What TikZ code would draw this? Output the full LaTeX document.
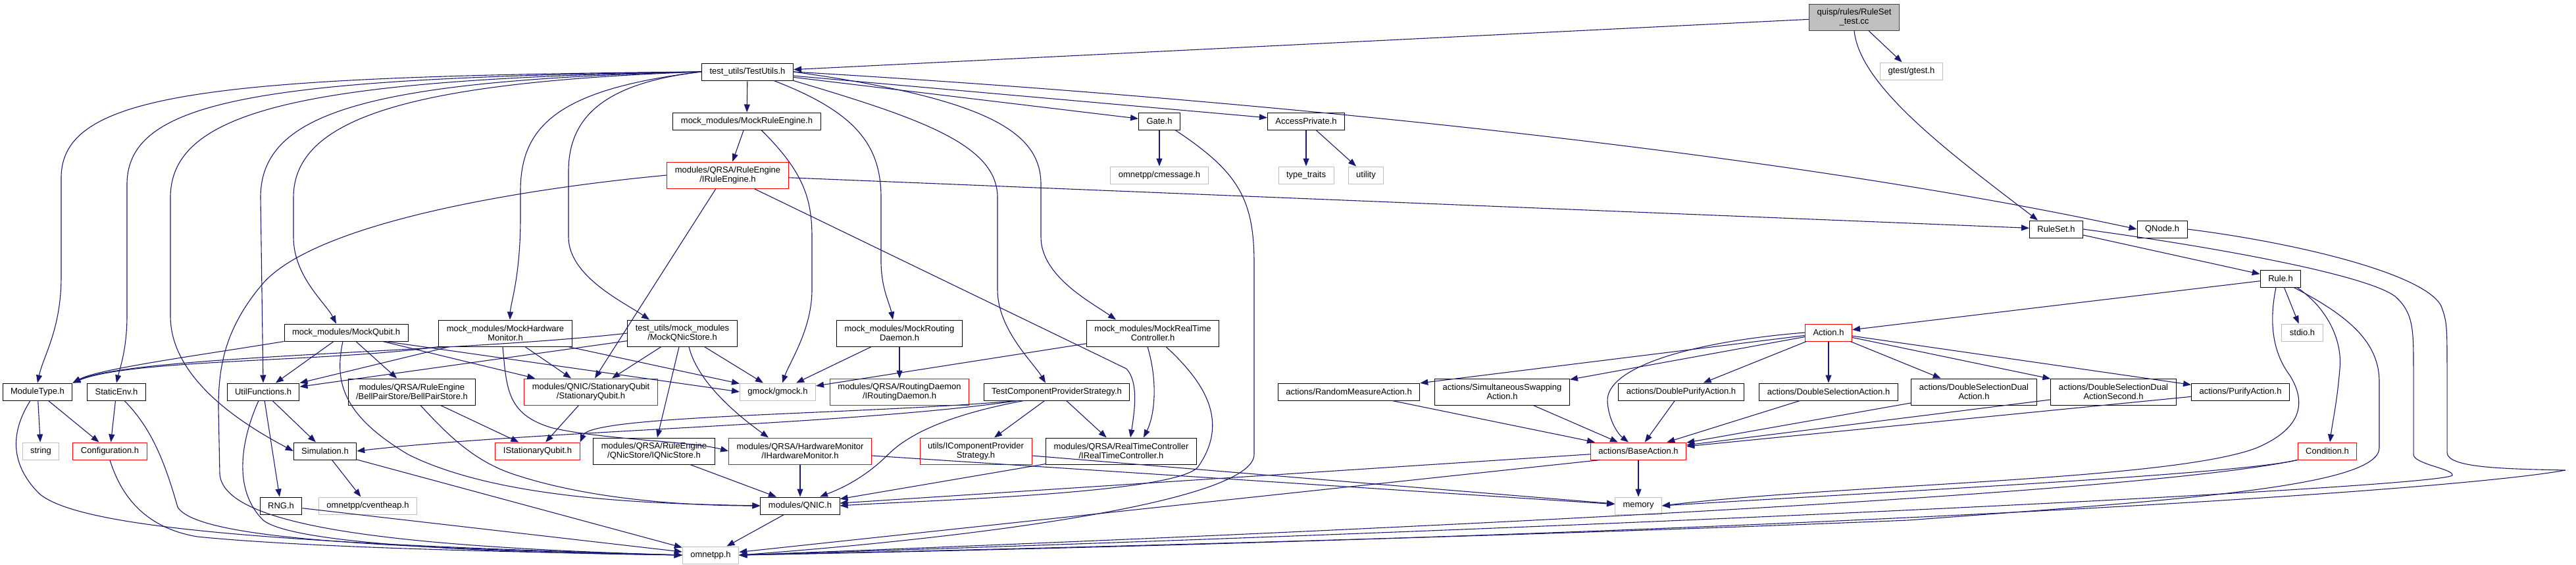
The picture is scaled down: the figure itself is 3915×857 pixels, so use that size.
\documentclass[tikz,border=0pt]{standalone}
\usepackage{fontspec}
\setmainfont{Liberation Sans}
\usepackage{xcolor}
\usetikzlibrary{arrows.meta,positioning}

\definecolor{edgeblue}{RGB}{25,25,112}
\definecolor{sysgray}{RGB}{191,191,191}
\definecolor{rootgray}{RGB}{64,64,64}
\newcommand{\hfont}{\fontsize{13}{14}\selectfont}

\begin{document}
\begin{tikzpicture}[x=1pt, y=-1pt,
  hdr/.style={draw=black, fill=white, line width=1pt, inner xsep=12pt, inner ysep=2pt, minimum height=26pt, align=center, font=\hfont},
  two/.style={minimum height=40pt},
  trunc/.style={hdr, draw=red},
  sys/.style={hdr, draw=sysgray},
  root/.style={hdr, fill=sysgray, draw=rootgray},
  dep/.style={draw=edgeblue, line width=1.1pt, -{Triangle[length=12pt,width=9pt]}}]
\useasboundingbox (0,0) rectangle (3915,857);

% Root file and first level
\node[root, two] (ruletest) at (2818,26) {quisp/rules/RuleSet\\\_test.cc};
\node[sys] (gtest) at (2905,108) {gtest/gtest.h};
\node[hdr] (testutils) at (1136,109) {test\_utils/TestUtils.h};

% Second row
\node[hdr] (mockre) at (1135,184) {mock\_modules/MockRuleEngine.h};
\node[hdr] (gate) at (1762,184) {Gate.h};
\node[hdr] (accesspriv) at (1985,184) {AccessPrivate.h};
\node[trunc, two] (iruleengine) at (1106,266) {modules/QRSA/RuleEngine\\/IRuleEngine.h};
\node[sys] (cmessage) at (1762,266) {omnetpp/cmessage.h};
\node[sys] (typetraits) at (1985,266) {type\_traits};
\node[sys] (utility) at (2076,266) {utility};

% Rule set side
\node[hdr] (ruleset) at (3125,348) {RuleSet.h};
\node[hdr] (qnode) at (3286,348) {QNode.h};
\node[hdr] (rule) at (3466,423) {Rule.h};
\node[trunc] (action) at (2779,505) {Action.h};
\node[sys] (stdio) at (3499,505) {stdio.h};

% Mock modules
\node[hdr] (mockqubit) at (526,505) {mock\_modules/MockQubit.h};
\node[hdr, two] (mockhw) at (768,506) {mock\_modules/MockHardware\\Monitor.h};
\node[hdr, two] (mockqnic) at (1037,506) {test\_utils/mock\_modules\\/MockQNicStore.h};
\node[hdr, two] (mockrd) at (1367,506) {mock\_modules/MockRouting\\Daemon.h};
\node[hdr, two] (mockrtc) at (1752,506) {mock\_modules/MockRealTime\\Controller.h};

% Row of headers at y 595
\node[hdr] (moduletype) at (57,595) {ModuleType.h};
\node[hdr] (staticenv) at (177,595) {StaticEnv.h};
\node[hdr] (utilfunc) at (400,595) {UtilFunctions.h};
\node[hdr, two] (bellpair) at (626,595) {modules/QRSA/RuleEngine\\/BellPairStore/BellPairStore.h};
\node[trunc, two] (statqubit) at (898,595) {modules/QNIC/StationaryQubit\\/StationaryQubit.h};
\node[sys] (gmock) at (1182,595) {gmock/gmock.h};
\node[trunc, two] (iroutingd) at (1367,595) {modules/QRSA/RoutingDaemon\\/IRoutingDaemon.h};
\node[hdr] (tcps) at (1606,595) {TestComponentProviderStrategy.h};
\node[hdr] (randmeas) at (2050,595) {actions/RandomMeasureAction.h};
\node[hdr, two] (simswap) at (2283,595) {actions/SimultaneousSwapping\\Action.h};
\node[hdr] (dpurify) at (2555,595) {actions/DoublePurifyAction.h};
\node[hdr] (dsel) at (2779,595) {actions/DoubleSelectionAction.h};
\node[hdr, two] (dseldual) at (3000,595) {actions/DoubleSelectionDual\\Action.h};
\node[hdr, two] (dseldualsec) at (3212,595) {actions/DoubleSelectionDual\\ActionSecond.h};
\node[hdr] (purify) at (3405,595) {actions/PurifyAction.h};

% Row of headers at y 685
\node[sys] (string) at (62,685) {string};
\node[trunc] (config) at (167,685) {Configuration.h};
\node[hdr] (simulation) at (494,685) {Simulation.h};
\node[trunc] (istatq) at (817,685) {IStationaryQubit.h};
\node[hdr, two] (iqnicstore) at (994,685) {modules/QRSA/RuleEngine\\/QNicStore/IQNicStore.h};
\node[trunc, two] (ihwmon) at (1216,685) {modules/QRSA/HardwareMonitor\\/IHardwareMonitor.h};
\node[trunc, two] (icps) at (1483,685) {utils/IComponentProvider\\Strategy.h};
\node[hdr, two] (irtc) at (1704,685) {modules/QRSA/RealTimeController\\/IRealTimeController.h};
\node[trunc] (baseaction) at (2490,685) {actions/BaseAction.h};
\node[trunc] (condition) at (3537,685) {Condition.h};

% Bottom rows
\node[hdr] (rng) at (427,768) {RNG.h};
\node[sys] (cventheap) at (559,768) {omnetpp/cventheap.h};
\node[hdr] (qnic) at (1216,768) {modules/QNIC.h};
\node[sys] (memory) at (2490,768) {memory};
\node[sys] (omnetpp) at (1080,843) {omnetpp.h};

% Edges from the test file
\draw[dep] (ruletest) -- (testutils);
\draw[dep] (ruletest) -- (gtest);
\draw[dep] (ruletest.south) .. controls (2826,130) and (2960,230) .. ([xshift=-28pt]ruleset.north);

% Edges from TestUtils, left fan
\draw[dep] (testutils.west) .. controls (320,116) and (93,140) .. (93,270) -- (93,420) .. controls (93,500) and (66,540) .. (moduletype.north);
\draw[dep] (testutils.west) .. controls (400,118) and (193,150) .. (193,280) -- (193,480) .. controls (193,530) and (182,560) .. (staticenv.north);
\draw[dep] (testutils.west) .. controls (470,120) and (259,165) .. (259,300) -- (259,480) .. controls (259,580) and (380,650) .. (simulation.west);
\draw[dep] (testutils.west) .. controls (560,122) and (396,170) .. (396,300) -- (utilfunc.north);
\draw[dep] (testutils.west) .. controls (620,125) and (446,180) .. (446,300) -- (446,360) .. controls (446,420) and (495,460) .. ([xshift=-15pt]mockqubit.north);
\draw[dep] (testutils.west) .. controls (850,135) and (791,190) .. (791,290) -- (791,330) .. controls (791,420) and (776,460) .. ([xshift=7pt]mockhw.north);
\draw[dep] (testutils.west) .. controls (930,125) and (864,170) .. (864,260) -- (864,360) .. controls (864,420) and (950,460) .. ([xshift=-50pt]mockqnic.north);

% Edges from TestUtils, right fan
\draw[dep] (testutils) -- (mockre);
\draw[dep] ([xshift=40pt]testutils.south) .. controls (1300,170) and (1339,220) .. (1339,300) -- (1339,400) .. controls (1340,440) and (1352,460) .. ([xshift=-10pt]mockrd.north);
\draw[dep] (testutils.south east) .. controls (1400,180) and (1516,220) .. (1516,300) -- (1516,440) .. controls (1516,500) and (1570,550) .. ([xshift=-17pt]tcps.north);
\draw[dep] (testutils.east) .. controls (1500,150) and (1582,200) .. (1582,280) -- (1582,360) .. controls (1582,420) and (1660,460) .. ([xshift=-56pt]mockrtc.north);
\draw[dep] (testutils) -- (gate);
\draw[dep] (testutils) -- (accesspriv);
\draw[dep] (testutils.east) .. controls (1900,150) and (2700,230) .. (qnode.west);

% Rule engine
\draw[dep] (mockre) -- (iruleengine);
\draw[dep] ([xshift=22pt]mockre.south) .. controls (1220,260) and (1234,300) .. (1234,360) -- (1234,440) .. controls (1234,500) and (1200,550) .. ([xshift=7pt]gmock.north);
\draw[dep] ([xshift=-18pt]iruleengine.south) -- ([xshift=6pt]statqubit.north);
\draw[dep] ([xshift=40pt]iruleengine.south) -- (1712,560) .. controls (1730,580) and (1725,620) .. ([xshift=14pt]irtc.north);
\draw[dep] (iruleengine) -- (ruleset);
\draw[dep] (iruleengine.west) .. controls (780,288) and (480,340) .. (400,430) .. controls (340,500) and (332,560) .. (332,620) -- (334,720) .. controls (340,800) and (600,830) .. (omnetpp.west);

% Gate and AccessPrivate
\draw[dep] (gate) -- (cmessage);
\draw[dep] ([xshift=24pt]gate.south) .. controls (1880,260) and (1906,300) .. (1906,400) -- (1906,690) .. controls (1906,760) and (1500,815) .. (omnetpp.east);
\draw[dep] (accesspriv) -- (typetraits);
\draw[dep] (accesspriv) -- (utility);

% MockQubit
\draw[dep] (mockqubit.south west) .. controls (300,540) and (150,560) .. (moduletype.north east);
\draw[dep] (mockqubit) -- (utilfunc);
\draw[dep] (mockqubit) -- (bellpair);
\draw[dep] (mockqubit) -- (statqubit);
\draw[dep] ([xshift=60pt]mockqubit.south) -- (gmock.west);
\draw[dep] ([xshift=-5pt]mockqubit.south) .. controls (508,580) and (520,630) .. (620,690) .. controls (760,760) and (1000,765) .. (qnic.west);

% MockHardwareMonitor
\draw[dep] (mockhw.south west) .. controls (500,550) and (200,545) .. (moduletype.north east);
\draw[dep] (mockhw) -- (utilfunc);
\draw[dep] (mockhw) -- (statqubit);
\draw[dep] (mockhw) -- (gmock);
\draw[dep] ([xshift=-4pt]mockhw.south) .. controls (770,590) and (770,630) .. (840,650) .. controls (920,668) and (1050,670) .. (ihwmon.west);

% MockQNicStore
\draw[dep] (mockqnic.west) .. controls (700,535) and (200,540) .. (moduletype.north east);
\draw[dep] (mockqnic) -- (utilfunc);
\draw[dep] (mockqnic) -- (statqubit);
\draw[dep] (mockqnic) -- (gmock);
\draw[dep] (mockqnic) -- (iqnicstore);
\draw[dep] ([xshift=10pt]mockqnic.south) .. controls (1060,580) and (1120,630) .. ([xshift=-48pt]ihwmon.north);

% MockRoutingDaemon and MockRealTimeController
\draw[dep] (mockrd) -- (gmock);
\draw[dep] (mockrd) -- (iroutingd);
\draw[dep] (mockrtc) -- (gmock);
\draw[dep] ([xshift=-8pt]mockrtc.south) .. controls (1760,580) and (1755,630) .. ([xshift=34pt]irtc.north);
\draw[dep] ([xshift=20pt]mockrtc.south) .. controls (1830,580) and (1870,640) .. (1820,710) .. controls (1780,750) and (1400,760) .. (qnic.east);

% TestComponentProviderStrategy
\draw[dep] ([xshift=-60pt]tcps.south) .. controls (1300,645) and (800,655) .. (simulation.east);
\draw[dep] ([xshift=-60pt]tcps.south) .. controls (1300,630) and (900,630) .. (istatq.north east);
\draw[dep] (tcps) -- (icps);
\draw[dep] (tcps) -- (irtc);
\draw[dep] ([xshift=-50pt]tcps.south) .. controls (1440,630) and (1380,660) .. (1350,690) .. controls (1310,730) and (1270,745) .. ([xshift=30pt]qnic.north);

% Utility headers
\draw[dep] (moduletype) -- (string);
\draw[dep] (moduletype) -- (config);
\draw[dep] ([xshift=-11pt]moduletype.south) .. controls (20,650) and (10,700) .. (60,750) .. controls (120,800) and (400,825) .. (omnetpp.west);
\draw[dep] (staticenv) -- (config);
\draw[dep] ([xshift=12pt]staticenv.south) .. controls (230,650) and (250,700) .. (270,770) .. controls (300,820) and (600,832) .. (omnetpp.west);
\draw[dep] (config.south) .. controls (180,740) and (210,800) .. (300,815) .. controls (500,835) and (900,840) .. (omnetpp.west);
\draw[dep] (utilfunc) -- (rng);
\draw[dep] (utilfunc) -- (simulation);
\draw[dep] ([xshift=-7pt]utilfunc.south) .. controls (370,660) and (350,740) .. (400,790) .. controls (450,830) and (800,840) .. (omnetpp.west);
\draw[dep] (simulation) -- (cventheap);
\draw[dep] (simulation) -- (omnetpp);
\draw[dep] (rng) -- (omnetpp);

% QNIC side
\draw[dep] (bellpair) -- (istatq);
\draw[dep] ([xshift=13pt]bellpair.south) .. controls (680,660) and (720,700) .. (780,720) .. controls (900,760) and (1050,768) .. (qnic.west);
\draw[dep] (statqubit) -- (istatq);
\draw[dep] (iqnicstore) -- (qnic);
\draw[dep] (ihwmon) -- (qnic);
\draw[dep] (ihwmon) -- (memory);
\draw[dep] (icps) -- (memory);
\draw[dep] (irtc) -- (qnic);
\draw[dep] (qnic) -- (omnetpp);

% Actions
\draw[dep] (action) -- (randmeas);
\draw[dep] (action) -- (simswap);
\draw[dep] (action) -- (dpurify);
\draw[dep] (action) -- (dsel);
\draw[dep] (action) -- (dseldual);
\draw[dep] (action) -- (dseldualsec);
\draw[dep] (action) -- (purify);
\draw[dep] (action.west) .. controls (2560,520) and (2440,560) .. (2443,610) .. controls (2445,640) and (2460,660) .. ([xshift=-15pt]baseaction.north);
\draw[dep] (randmeas) -- (baseaction);
\draw[dep] (simswap) -- (baseaction);
\draw[dep] (dpurify) -- (baseaction);
\draw[dep] (dsel) -- (baseaction);
\draw[dep] (dseldual) -- (baseaction);
\draw[dep] (dseldualsec) -- (baseaction);
\draw[dep] (purify) -- (baseaction);
\draw[dep] (baseaction) -- (memory);
\draw[dep] (baseaction) -- (qnic);
\draw[dep] ([xshift=15pt]baseaction.south west) -- (omnetpp);

% RuleSet, QNode, Rule, Condition
\draw[dep] (ruleset) -- (rule);
\draw[dep] (ruleset.east) .. controls (3400,380) and (3600,420) .. (3640,450) .. controls (3668,475) and (3668,500) .. (3668,560) -- (3668,690) .. controls (3668,705) and (3730,712) .. (3727,722) .. controls (3700,740) and (2500,800) .. (omnetpp.east);
\draw[dep] (qnode.east) .. controls (3500,370) and (3700,420) .. (3712,470) .. controls (3719,490) and (3719,500) .. (3719,560) -- (3719,687) .. controls (3719,710) and (3800,712) .. (3899,714) .. controls (3700,750) and (2600,815) .. (omnetpp.east);
\draw[dep] (rule) -- (action);
\draw[dep] (rule) -- (stdio);
\draw[dep] ([xshift=25pt]rule.south) .. controls (3540,470) and (3560,520) .. (3556,560) .. controls (3552,610) and (3545,640) .. ([xshift=4pt]condition.north);
\draw[dep] ([xshift=-7pt]rule.south) .. controls (3450,480) and (3450,530) .. (3480,570) .. controls (3505,610) and (3500,650) .. (3430,680) .. controls (3300,730) and (2800,735) .. (memory.east);
\draw[dep] ([xshift=20pt]rule.south) .. controls (3570,480) and (3616,520) .. (3616,580) -- (3616,680) .. controls (3616,740) and (3300,760) .. (2900,790) .. controls (2300,815) and (1500,835) .. (omnetpp.east);
\draw[dep] (condition.south west) .. controls (3400,720) and (2900,745) .. (memory.east);
\draw[dep] (condition.south west) .. controls (3300,740) and (2500,790) .. (omnetpp.east);

\end{tikzpicture}
\end{document}
